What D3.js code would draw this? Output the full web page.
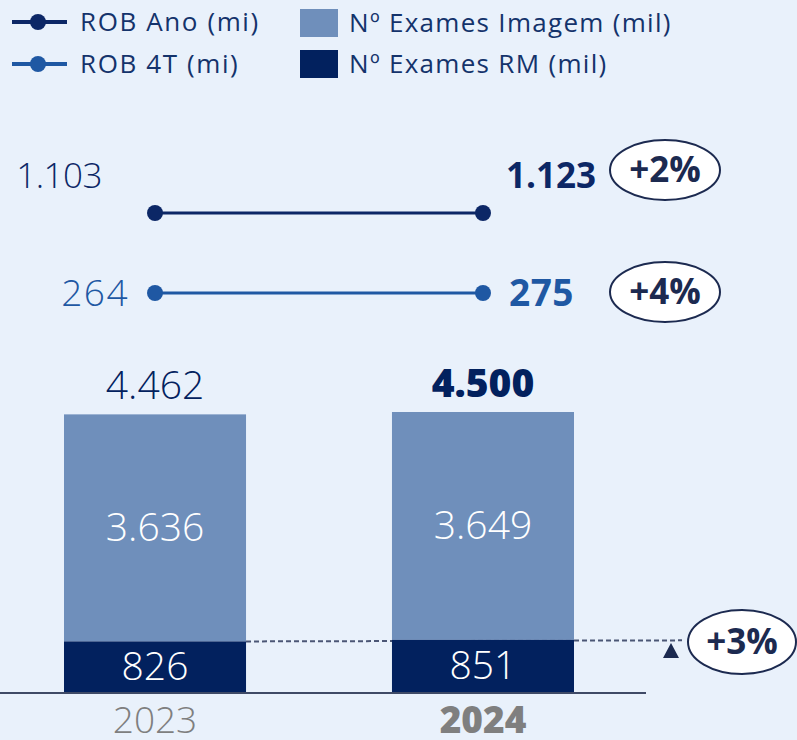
<!DOCTYPE html>
<html><head><meta charset="utf-8">
<script src="https://cdn.jsdelivr.net/npm/d3@7"></script>
<style>
html,body{margin:0;padding:0;background:#e9f1fb;}
svg{display:block;font-family:"Open Sans",sans-serif;}
</style></head>
<body>
<svg id="chart" width="797" height="740"></svg>
<script>
const years = ["2023", "2024"];
const examesImagem = [3636, 3649];
const examesRM = [826, 851];
const examesTotal = ["4.462", "4.500"];
const imagemLabels = ["3.636", "3.649"];
const rmLabels = ["826", "851"];
const robAno = [1103, 1123];
const robAnoLabels = ["1.103", "1.123"];
const rob4T = [264, 275];
const rob4TLabels = ["264", "275"];
const growthLabels = ["+2%", "+4%", "+3%"];
const legendLines = ["ROB Ano (mi)", "ROB 4T (mi)"];
const legendBars = ["N\u00ba Exames Imagem (mil)", "N\u00ba Exames RM (mil)"];

const C = {
  bg:"#e9f1fb", light:"#6f8fbb", dark:"#02215e", ano:"#0c2766", q:"#1f58a3",
  text:"#14336b", gray:"#7f7f7f", axis:"#3f4a66", oval:"#1c2a50"
};

const svg = d3.select("#chart");
svg.append("rect").attr("width",797).attr("height",740).attr("fill",C.bg);

// scales
const x = d3.scaleBand().domain(years).range([64, 574]).paddingInner(0.445).paddingOuter(0);
const y = d3.scaleLinear().domain([0, 4500]).range([693, 412]);
const cx = d => x(d) + x.bandwidth()/2;

// legend
const legLine = svg.append("g");
const lineColors = [C.ano, C.q];
legendLines.forEach((t,i)=>{
  const yy = 22 + i*42;
  legLine.append("line").attr("x1",12).attr("x2",67).attr("y1",yy).attr("y2",yy)
    .attr("stroke",lineColors[i]).attr("stroke-width",4);
  legLine.append("circle").attr("cx",38).attr("cy",yy).attr("r",8).attr("fill",lineColors[i]);
  legLine.append("text").attr("x",80).attr("y",yy+9).attr("font-size",26).attr("letter-spacing",1.6)
    .attr("fill",C.text).text(t);
});
const barColors = [C.light, C.dark];
legendBars.forEach((t,i)=>{
  const yy = 9 + i*41;
  legLine.append("rect").attr("x",300).attr("y",yy).attr("width",38).attr("height",28).attr("fill",barColors[i]);
  legLine.append("text").attr("x",349).attr("y",yy+23).attr("font-size",26).attr("letter-spacing",1.3)
    .attr("fill",C.text).text(t);
});

// dashed reference line at RM top
const rmTop = y(examesRM[0]);
svg.append("line").attr("x1",x("2023")+x.bandwidth()).attr("x2",682)
  .attr("y1",rmTop).attr("y2",y(examesRM[1])+0.5)
  .attr("stroke","#4b5675").attr("stroke-width",2).attr("stroke-dasharray","5,3");

// bars
const bars = svg.append("g");
years.forEach((yr,i)=>{
  bars.append("rect").attr("x",x(yr)).attr("width",x.bandwidth())
    .attr("y",y(examesRM[i]+examesImagem[i])).attr("height",y(examesRM[i])-y(examesRM[i]+examesImagem[i]))
    .attr("fill",C.light);
  bars.append("rect").attr("x",x(yr)).attr("width",x.bandwidth())
    .attr("y",y(examesRM[i])).attr("height",y(0)-y(examesRM[i]))
    .attr("fill",C.dark);
  bars.append("text").attr("x",cx(yr)).attr("y",(y(examesRM[i]+examesImagem[i])+y(examesRM[i]))/2+13)
    .attr("text-anchor","middle").attr("font-size",39).attr("font-weight",300).attr("fill","#fff").text(imagemLabels[i]);
  bars.append("text").attr("x",cx(yr)).attr("y",(y(examesRM[i])+y(0))/2+13)
    .attr("text-anchor","middle").attr("font-size",39).attr("font-weight",300).attr("fill","#fff").text(rmLabels[i]);
  bars.append("text").attr("x",cx(yr)).attr("y",y(examesRM[i]+examesImagem[i])-15)
    .attr("text-anchor","middle").attr("font-size",39).attr("font-weight",i===1?800:300)
    .attr("fill",C.dark).text(examesTotal[i]);
  bars.append("text").attr("x",cx(yr)).attr("y",733)
    .attr("text-anchor","middle").attr("font-size",37).attr("font-weight",i===1?800:300)
    .attr("fill",C.gray).text(yr);
});

// axis baseline
svg.append("line").attr("x1",0).attr("x2",646).attr("y1",y(0)).attr("y2",y(0))
  .attr("stroke",C.axis).attr("stroke-width",2);

// triangle marker
svg.append("path").attr("d","M671,643 L679,658 L663,658 Z").attr("fill",C.oval);

// lines
const rows = d3.scalePoint().domain(["ano","q"]).range([213, 293]);
const lineGen = d3.line().x(d=>cx(d.year)).y(d=>d.y);
function drawSeries(vals, key, color){
  const pts = years.map((yr,i)=>({year:yr, v:vals[i], y:rows(key)}));
  svg.append("path").datum(pts).attr("d",lineGen).attr("fill","none").attr("stroke",color).attr("stroke-width",3);
  svg.selectAll(null).data(pts).enter().append("circle")
    .attr("cx",d=>cx(d.year)).attr("cy",d=>d.y).attr("r",8).attr("fill",color);
}
drawSeries(robAno, "ano", C.ano);
drawSeries(rob4T, "q", C.q);

// line labels
svg.append("text").attr("x",102).attr("y",188).attr("text-anchor","end").attr("font-size",35).attr("font-weight",300)
  .attr("letter-spacing",-0.5).attr("fill",C.ano).text(robAnoLabels[0]);
svg.append("text").attr("x",506).attr("y",188).attr("font-size",35).attr("font-weight",700)
  .attr("fill",C.ano).text(robAnoLabels[1]);
svg.append("text").attr("x",129).attr("y",rows("q")+13).attr("text-anchor","end").attr("font-size",37).attr("font-weight",300)
  .attr("letter-spacing",1.5).attr("fill",C.q).text(rob4TLabels[0]);
svg.append("text").attr("x",509).attr("y",rows("q")+13).attr("font-size",37).attr("font-weight",700)
  .attr("letter-spacing",0.5).attr("fill",C.q).text(rob4TLabels[1]);

// growth ovals
const ovals = [[665,170,55,30],[665,292,55,30],[742,642,54,32]];
ovals.forEach((o,i)=>{
  svg.append("ellipse").attr("cx",o[0]).attr("cy",o[1]).attr("rx",o[2]).attr("ry",o[3])
    .attr("fill","#fff").attr("stroke",C.oval).attr("stroke-width",2);
  svg.append("text").attr("x",o[0]).attr("y",o[1]+12).attr("text-anchor","middle")
    .attr("font-size",35).attr("font-weight",700).attr("fill",C.oval).text(growthLabels[i]);
});
</script>
</body></html>
